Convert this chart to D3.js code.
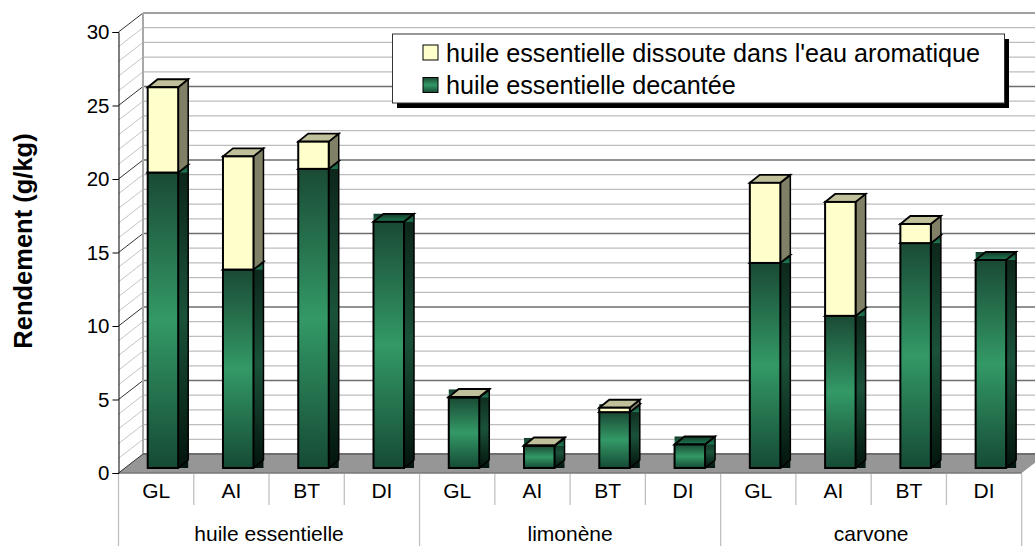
<!DOCTYPE html>
<html>
<head>
<meta charset="utf-8">
<script src="https://cdn.jsdelivr.net/npm/d3@7"></script>
<style>
html,body{margin:0;padding:0;background:#fff;overflow:hidden}
text{font-family:"Liberation Sans",Arial,sans-serif;fill:#000}
</style>
</head>
<body>
<div id="chart"></div>
<script>
var groups = ["huile essentielle","limonène","carvone"];
var categories = ["GL","AI","BT","DI"];
// g/kg
var decantee = [20.1,13.5,20.35,16.75, 4.8,1.5,3.8,1.6, 13.95,10.35,15.3,14.15];
var dissoute = [5.8,7.7,1.85,0, 0.03,0.03,0.3,0, 5.45,7.75,1.3,0];
var yTicks = [0,5,10,15,20,25,30];
var minorTicks = d3.range(0,31);
var legendLabels = ["huile essentielle dissoute dans l'eau aromatique","huile essentielle decantée"];

var W = 1035, H = 546;
var left = 118.5, right = 1021.7, y0 = 473, y30 = 32;
var wallDx = 24.5, wallDy = 19;   // profondeur du mur
var barDx = 10, barDy = 8;        // profondeur d'une barre
var barShift = 5;                 // barres un peu en retrait du bord avant

var svg = d3.select("#chart").append("svg").attr("width",W).attr("height",H).style("display","block");

var keys = [];
groups.forEach(function(g){ categories.forEach(function(c){ keys.push(g+"|"+c); }); });
var x = d3.scaleBand().domain(keys).range([left,right]);
var xGroup = d3.scaleBand().domain(groups).range([left,right]);
var y = d3.scaleLinear().domain([0,30]).range([y0,y30]);
var barWidth = 30.5, barInset = 29.2;

function grad(id,stops){
    var g = defs.append("linearGradient").attr("id",id).attr("x1",0).attr("x2",0).attr("y1",0).attr("y2",1);
    stops.forEach(function(s){ g.append("stop").attr("offset",s[0]).attr("stop-color",s[1]); });
}
var defs = svg.append("defs");
grad("front",[[0,"#1a4a35"],[0.5,"#339966"],[1,"#154a35"]]);
grad("side",[[0,"#0c2419"],[0.5,"#1a5239"],[1,"#03140c"]]);
grad("topf",[[0,"#123a29"],[1,"#1f7a52"]]);

// mur du fond, mur gauche, sol
var wall = svg.append("g");
wall.append("path")
    .attr("d","M"+left+" "+y0+"L"+(left+wallDx)+" "+(y0-wallDy)+"L"+W+" "+(y0-wallDy)+"L"+W+" "+(y0-wallDy*(W-right)/wallDx)+"L"+right+" "+y0+"Z")
    .attr("fill","#969696");

wall.selectAll("line.back").data(minorTicks.filter(function(d){return d>0;})).enter().append("line")
    .attr("x1",left+wallDx).attr("x2",W)
    .attr("y1",function(d){return y(d)-wallDy;}).attr("y2",function(d){return y(d)-wallDy;})
    .attr("stroke",function(d){return d==30?"#808080":(d%5==0?"#6e6e6e":"#bdbdbd");})
    .attr("stroke-width",function(d){return d==30?1.5:1.3;});
wall.selectAll("line.side").data(minorTicks).enter().append("line")
    .attr("x1",left).attr("x2",left+wallDx)
    .attr("y1",function(d){return y(d);}).attr("y2",function(d){return y(d)-wallDy;})
    .attr("stroke",function(d){return d%5==0?"#333":"#c4c4c4";}).attr("stroke-width",1);
wall.append("line").attr("x1",left+wallDx).attr("x2",left+wallDx).attr("y1",y(30)-wallDy).attr("y2",y0-wallDy)
    .attr("stroke","#a8a8a8").attr("stroke-width",2);
wall.append("line").attr("x1",left+wallDx).attr("x2",W).attr("y1",y0-wallDy).attr("y2",y0-wallDy)
    .attr("stroke","#6e6e6e").attr("stroke-width",2);
wall.append("line").attr("x1",left).attr("x2",right).attr("y1",y0).attr("y2",y0)
    .attr("stroke","#777").attr("stroke-width",1.5);

// barres
var bars = svg.append("g");
keys.forEach(function(k,i){
    var x0 = x(k)+barInset, x1 = x0+barWidth;
    var base = y(0)-barShift;
    var yb = y(decantee[i])-barShift;
    var yt = y(decantee[i]+dissoute[i])-barShift;
    // le degrade remplit tout le rectangle englobant, d'ou les coins verts
    bars.append("rect").attr("x",x1).attr("y",yb-barDy).attr("width",barDx).attr("height",base-yb+barDy).attr("fill","url(#side)");
    bars.append("rect").attr("x",x0).attr("y",yb-barDy).attr("width",barWidth+barDx).attr("height",barDy).attr("fill","url(#topf)");
    bars.append("path").attr("d","M"+x0+" "+yb+"L"+(x0+barDx)+" "+(yb-barDy)+"L"+(x1+barDx)+" "+(yb-barDy)+"L"+x1+" "+yb+"Z")
        .attr("fill","none").attr("stroke","#000").attr("stroke-width",1.8);
    bars.append("path").attr("d","M"+x1+" "+yb+"L"+(x1+barDx)+" "+(yb-barDy)+"L"+(x1+barDx)+" "+(base-barDy)+"L"+x1+" "+base)
        .attr("fill","none").attr("stroke","#000").attr("stroke-width",1.5);
    bars.append("rect").attr("x",x0).attr("y",yb).attr("width",barWidth).attr("height",base-yb)
        .attr("fill","url(#front)").attr("stroke","#000").attr("stroke-width",2);
    if(dissoute[i]>0){
        bars.append("path").attr("d","M"+x1+" "+yb+"L"+(x1+barDx)+" "+(yb-barDy)+"L"+(x1+barDx)+" "+(yt-barDy)+"L"+x1+" "+yt+"Z")
            .attr("fill","#808066").attr("stroke","#000").attr("stroke-width",1.5);
        bars.append("path").attr("d","M"+x0+" "+yt+"L"+(x0+barDx)+" "+(yt-barDy)+"L"+(x1+barDx)+" "+(yt-barDy)+"L"+x1+" "+yt+"Z")
            .attr("fill","#c0c09a").attr("stroke","#000").attr("stroke-width",1.8);
        bars.append("rect").attr("x",x0).attr("y",yt).attr("width",barWidth).attr("height",yb-yt)
            .attr("fill","#ffffcc").attr("stroke","#000").attr("stroke-width",2);
    }
});

// axe y
var yAxis = d3.axisLeft(y).tickValues(yTicks).tickSize(6).tickPadding(3);
var gy = svg.append("g").attr("transform","translate("+left+",0)").call(yAxis);
gy.select(".domain").attr("stroke","#000").attr("stroke-width",1);
gy.selectAll("line").attr("stroke","#000");
gy.selectAll("text").style("font-family","'Liberation Sans',Arial,sans-serif").style("font-size","20.5px");

svg.append("text").attr("transform","translate(32,241) rotate(-90)").attr("text-anchor","middle")
    .style("font-size","25.5px").style("font-weight","bold").text("Rendement (g/kg)");

// axe x a deux niveaux
var sep = svg.append("g");
sep.selectAll("line").data(keys).enter().append("line")
    .attr("x1",function(d){return x(d);}).attr("x2",function(d){return x(d);})
    .attr("y1",y0+1).attr("y2",function(d,i){return i%4==0?H:505;})
    .attr("stroke","#c0c0c0").attr("stroke-width",1.3);
sep.append("line").attr("x1",right).attr("x2",right).attr("y1",y0+1).attr("y2",H)
    .attr("stroke","#c0c0c0").attr("stroke-width",1.3);
svg.selectAll("text.cat").data(keys).enter().append("text").attr("class","cat")
    .attr("x",function(d){return x(d)+x.bandwidth()/2;}).attr("y",498).attr("text-anchor","middle")
    .style("font-size","21px").text(function(d){return d.split("|")[1];});
svg.selectAll("text.grp").data(groups).enter().append("text").attr("class","grp")
    .attr("x",function(d){return xGroup(d)+xGroup.bandwidth()/2;}).attr("y",541).attr("text-anchor","middle")
    .style("font-size","21px").text(function(d){return d;});

// legende
var lg = svg.append("g");
lg.append("rect").attr("x",397).attr("y",39).attr("width",612).attr("height",69).attr("fill","#000");
lg.append("rect").attr("x",392.5).attr("y",34).attr("width",612).attr("height",69).attr("fill","#fff")
    .attr("stroke","#333").attr("stroke-width",1);
lg.selectAll("rect.sw").data(legendLabels).enter().append("rect").attr("class","sw")
    .attr("x",423).attr("y",function(d,i){return 45+i*32.5;}).attr("width",15).attr("height",15)
    .attr("stroke","#000").attr("stroke-width",1)
    .attr("fill",function(d,i){return i==0?"#ffffcc":"url(#front)";});
lg.selectAll("text").data(legendLabels).enter().append("text")
    .attr("x",446).attr("y",function(d,i){return 62+i*32;})
    .style("font-size","25.2px").text(function(d){return d;});
</script>
</body>
</html>
